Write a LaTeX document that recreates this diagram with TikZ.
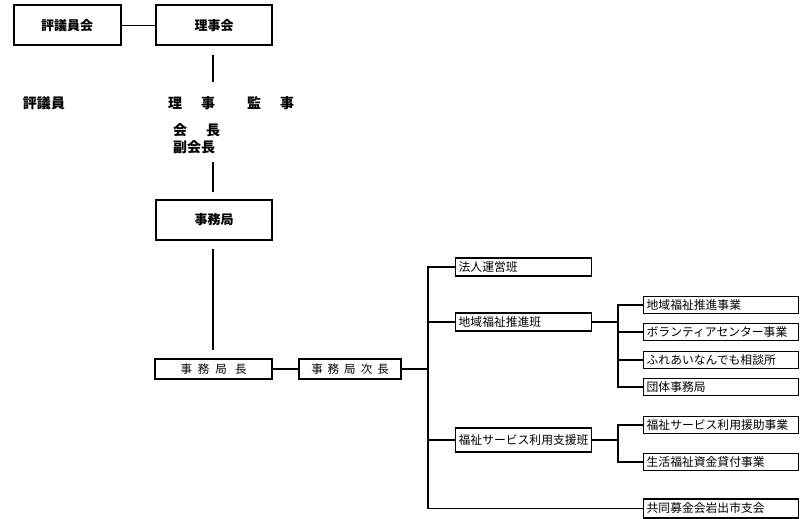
\documentclass[tikz,border=0pt]{standalone}
\usepackage{fontspec}
\setmainfont{Noto Sans CJK JP}
\usepackage{tikz}
\usetikzlibrary{positioning,calc}

\begin{document}
\begin{tikzpicture}[x=1pt, y=-1pt,
  box/.style={draw, line width=1.3pt, inner sep=0pt},
  bigbox/.style={box, line width=2pt, minimum width=116pt, minimum height=40pt, font=\fontsize{13}{15}\selectfont\bfseries},
  midbox/.style={box, minimum height=20pt, font=\fontsize{11.5}{13}\selectfont},
  team/.style={box, anchor=west, text width=130pt, inner xsep=3pt, minimum height=18pt, align=left, font=\fontsize{11.8}{13}\selectfont},
  sub/.style={box, anchor=west, text width=149pt, inner xsep=3pt, minimum height=17pt, align=left, font=\fontsize{11.8}{13}\selectfont},
  lbl/.style={inner sep=0pt, font=\fontsize{14}{17}\selectfont\bfseries},
  ln/.style={line width=1.3pt}]
\useasboundingbox (0,0) rectangle (800,519);
% board tier
\node[bigbox, minimum width=107pt] (hyogikai) at (67,25.5) {評議員会};
\node[bigbox] (rijikai) at (214,25.5) {理事会};
\node[lbl] (hyogiin) at (44,103) {評議員};
\node[lbl, anchor=west] (riji) at (168,103) {理\hspace{19pt}事};
\node[lbl, anchor=west] (kanji) at (247,103) {監\hspace{19pt}事};
\node[lbl, anchor=west] (kaicho) at (173,130) {会\hspace{19pt}長};
\node[lbl, anchor=west] (fukukaicho) at (173,147) {副会長};
\node[bigbox] (jimukyoku) at (214,219.5) {事務局};
\coordinate (c1) at (213,55);
\coordinate (c2) at (213,82);
\coordinate (c3) at (213,162);
\coordinate (c4) at (213,192);
\coordinate (c5) at (213,249);
\coordinate (c6) at (213,350);

% office tier
\node[midbox, minimum width=117pt] (kyokucho) at (213.5,369) {事\hspace{6pt}務\hspace{6pt}局\hspace{8pt}長};
\node[midbox, minimum width=102pt] (jicho) at (350,369) {事\hspace{5pt}務\hspace{5pt}局\hspace{5pt}次\hspace{5pt}長};
\coordinate (tk) at (428,0);
\coordinate (sk) at (618,0);

% teams
\node[team] (hojin) at (455,267) {法人運営班};
\node[team] (chiiki) at (455,322) {地域福祉推進班};
\node[team, minimum height=24pt] (fukushi) at (455,440) {福祉サービス利用支援班};
\node[sub] (suishin) at (643,305) {地域福祉推進事業};
\node[sub] (volunteer) at (643,332) {ボランティアセンター事業};
\node[sub] (fureai) at (643,360) {ふれあいなんでも相談所};
\node[sub] (dantai) at (643,387) {団体事務局};
\node[sub] (engo) at (643,425) {福祉サービス利用援助事業};
\node[sub] (shikin) at (643,462) {生活福祉資金貸付事業};
\node[sub, minimum height=19pt] (kyodo) at (643,508.5) {共同募金会岩出市支会};

\draw[ln] (hyogikai) -- (rijikai);
\draw[ln] (c1) -- (c2);
\draw[ln] (c3) -- (c4);
\draw[ln] (c5) -- (c6);
\draw[ln] (kyokucho) -- (jicho);
\draw[ln] (jicho.east) -- (jicho.east -| tk);
\draw[ln] (hojin.west) -- (hojin.west -| tk) |- (kyodo.west);
\draw[ln] (chiiki.west) -- (chiiki.west -| tk);
\draw[ln] (fukushi.west) -- (fukushi.west -| tk);
\draw[ln] (chiiki.east) -- (chiiki.east -| sk);
\draw[ln] (suishin.west) -- (suishin.west -| sk) |- (dantai.west);
\draw[ln] (volunteer.west) -- (volunteer.west -| sk);
\draw[ln] (fureai.west) -- (fureai.west -| sk);
\draw[ln] (fukushi.east) -- (fukushi.east -| sk);
\draw[ln] (engo.west) -- (engo.west -| sk) |- (shikin.west);
\end{tikzpicture}
\end{document}
